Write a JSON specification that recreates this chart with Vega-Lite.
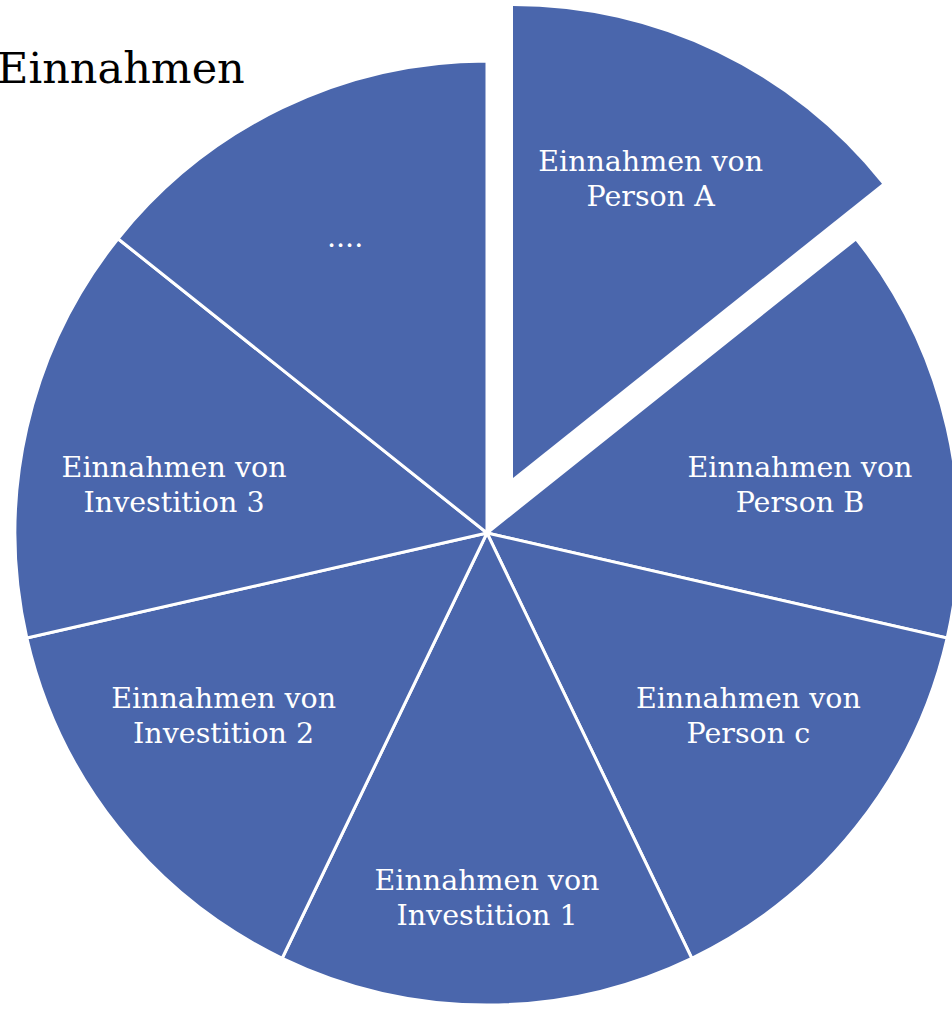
{
  "$schema": "https://vega.github.io/schema/vega-lite/v6.json",
  "width": 974,
  "height": 1066,
  "autosize": "none",
  "padding": 0,
  "background": "white",
  "title": {"text": "Einnahmen", "anchor": "start", "frame": "group", "font": "DejaVu Serif", "fontSize": 43, "fontWeight": "normal", "color": "black", "baseline": "alphabetic", "dx": -3, "dy": 126, "offset": 0},
  "data": {"values": [
    {"label": "Einnahmen von\nPerson A", "key": "A", "value": 1},
    {"label": "Einnahmen von\nPerson B", "key": "B", "value": 1},
    {"label": "Einnahmen von\nPerson c", "key": "C", "value": 1},
    {"label": "Einnahmen von\nInvestition 1", "key": "I1", "value": 1},
    {"label": "Einnahmen von\nInvestition 2", "key": "I2", "value": 1},
    {"label": "Einnahmen von\nInvestition 3", "key": "I3", "value": 1},
    {"label": "....", "key": "X", "value": 1}
  ]},
  "encoding": {
    "theta": {"field": "value", "type": "quantitative", "stack": true},
    "order": {"field": "key", "sort": null},
    "text": {"field": "label"}
  },
  "layer": [
    {
      "mark": {"type": "arc", "radius": 472, "stroke": "white", "strokeWidth": 3, "fill": "#4A66AC"},
      "encoding": {"opacity": {"condition": {"test": "datum.key === 'A'", "value": 0}, "value": 1}}
    },
    {
      "mark": {"type": "arc", "radius": 472, "strokeWidth": 0, "fill": "#4A66AC", "xOffset": 26, "yOffset": -55},
      "encoding": {"opacity": {"condition": {"test": "datum.key === 'A'", "value": 1}, "value": 0}}
    },
    {
      "mark": {"type": "text", "radius": 321, "dy": 6, "font": "DejaVu Serif", "fontSize": 28.5, "color": "white", "lineBreak": "\n", "lineHeight": 35, "align": "center", "baseline": "middle"},
      "encoding": {"opacity": {"condition": {"test": "datum.key === 'B' || datum.key === 'I3'", "value": 1}, "value": 0}}
    },
    {
      "mark": {"type": "text", "radius": 310, "dx": 19, "dy": -27, "font": "DejaVu Serif", "fontSize": 28.5, "color": "white", "lineBreak": "\n", "lineHeight": 35, "align": "center", "baseline": "middle"},
      "encoding": {"opacity": {"condition": {"test": "datum.key === 'C'", "value": 1}, "value": 0}}
    },
    {
      "mark": {"type": "text", "radius": 310, "dx": -21, "dy": -27, "font": "DejaVu Serif", "fontSize": 28.5, "color": "white", "lineBreak": "\n", "lineHeight": 35, "align": "center", "baseline": "middle"},
      "encoding": {"opacity": {"condition": {"test": "datum.key === 'I2'", "value": 1}, "value": 0}}
    },
    {
      "mark": {"type": "text", "radius": 348, "font": "DejaVu Serif", "fontSize": 28.5, "color": "white", "lineBreak": "\n", "lineHeight": 35, "align": "center", "baseline": "middle"},
      "encoding": {"opacity": {"condition": {"test": "datum.key === 'I1'", "value": 1}, "value": 0}}
    },
    {
      "mark": {"type": "text", "radius": 327, "font": "DejaVu Serif", "fontSize": 28.5, "color": "white", "align": "center", "baseline": "middle"},
      "encoding": {"opacity": {"condition": {"test": "datum.key === 'X'", "value": 1}, "value": 0}}
    },
    {
      "mark": {"type": "text", "radius": 345, "dx": -12, "dy": -5, "xOffset": 26, "yOffset": -55, "font": "DejaVu Serif", "fontSize": 28.5, "color": "white", "lineBreak": "\n", "lineHeight": 35, "align": "center", "baseline": "middle"},
      "encoding": {"opacity": {"condition": {"test": "datum.key === 'A'", "value": 1}, "value": 0}}
    }
  ],
  "config": {"view": {"stroke": null}}
}
